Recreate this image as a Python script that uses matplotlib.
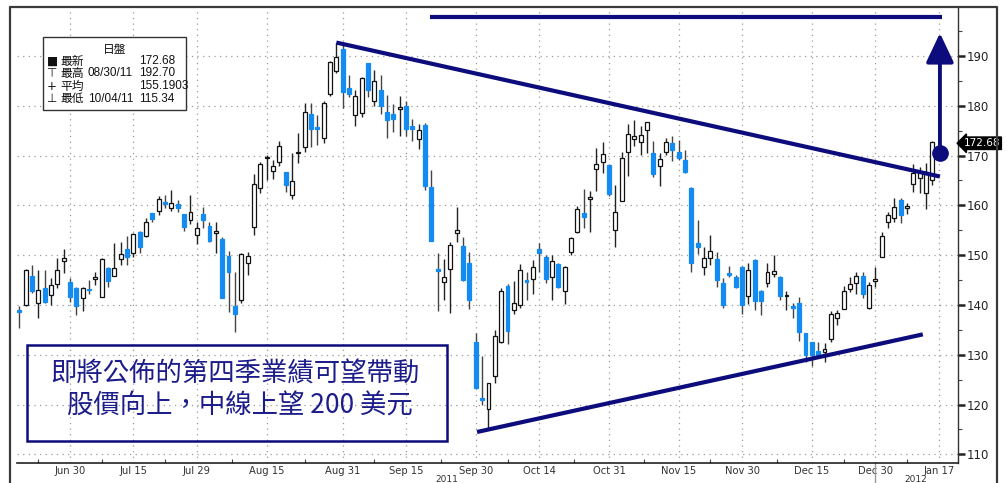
"""Daily candlestick chart with trendline annotations (Bloomberg style)."""
import matplotlib
matplotlib.use("Agg")
import matplotlib.pyplot as plt
from matplotlib.patches import Rectangle
from matplotlib.lines import Line2D
import pandas as pd

W, H = 1007, 483

# trading calendar (Jun 20 2011 .. Jan 17 2012, US market holidays removed)
holidays = ["2011-07-04", "2011-09-05", "2011-11-24", "2011-12-26", "2012-01-02", "2012-01-16"]
session_days = [d.strftime("%Y-%m-%d") for d in pd.bdate_range("2011-06-20", "2012-01-17")
                if d.strftime("%Y-%m-%d") not in holidays]

opens = [139.0, 140.0, 145.8, 140.3, 143.4, 142.0, 144.2, 148.8, 144.6, 143.4,
         141.4, 143.3, 145.2, 141.7, 147.5, 145.9, 149.2, 151.2, 150.4, 154.7,
         153.9, 158.4, 158.9, 160.7, 159.4, 160.3, 158.2, 157.1, 154.1, 158.3,
         155.9, 154.5, 153.2, 149.8, 139.7, 141.1, 148.5, 155.6, 163.5, 169.5,
         166.9, 168.7, 166.8, 162.1, 170.5, 171.8, 178.4, 175.8, 173.5, 182.4,
         186.9, 191.5, 183.5, 178.2, 178.5, 188.5, 181.0, 183.1, 178.7, 178.3,
         179.3, 180.0, 176.0, 173.3, 176.1, 163.7, 147.1, 144.7, 147.3, 154.5,
         151.8, 148.4, 132.6, 121.3, 119.2, 125.8, 132.6, 143.8, 139.0, 140.0,
         145.0, 145.2, 151.2, 149.7, 145.6, 148.2, 142.9, 150.7, 154.6, 158.5,
         161.2, 167.3, 168.8, 168.1, 155.1, 160.9, 170.8, 173.3, 172.7, 175.2,
         170.5, 168.0, 170.8, 172.5, 170.8, 169.1, 163.4, 152.5, 147.6, 149.4,
         149.2, 144.5, 146.5, 145.7, 147.7, 141.9, 149.0, 142.8, 144.4, 146.2,
         145.6, 141.8, 139.6, 140.5, 134.4, 132.5, 130.8, 130.5, 133.1, 137.3,
         139.1, 143.3, 144.4, 145.9, 139.3, 144.8, 149.7, 156.7, 157.4, 161.1,
         159.4, 164.3, 165.6, 162.5, 165.1]
highs = [139.8, 147.2, 148.0, 147.0, 147.0, 145.4, 149.4, 151.2, 145.4, 143.7,
         143.7, 145.0, 146.7, 149.4, 147.7, 152.4, 152.7, 153.9, 154.4, 154.9,
         157.4, 158.5, 161.9, 162.1, 163.1, 161.1, 158.3, 162.1, 156.7, 159.7,
         156.7, 156.7, 153.7, 150.9, 146.7, 150.4, 150.7, 166.3, 168.8, 170.1,
         169.1, 173.0, 166.8, 170.6, 174.6, 180.5, 180.5, 178.1, 181.0, 188.9,
         192.7, 192.5, 186.2, 183.2, 185.8, 188.6, 187.1, 186.2, 182.2, 180.3,
         182.0, 181.0, 177.3, 176.3, 176.6, 167.1, 150.4, 149.2, 152.7, 159.7,
         153.7, 150.7, 134.3, 129.7, 124.4, 135.0, 143.4, 144.2, 144.8, 148.2,
         146.7, 149.0, 152.4, 150.0, 150.0, 148.5, 147.9, 153.7, 159.9, 163.2,
         162.8, 171.6, 172.7, 168.1, 164.0, 170.8, 176.3, 177.1, 176.0, 176.7,
         173.0, 170.6, 173.6, 174.0, 173.1, 171.1, 163.6, 157.1, 151.7, 154.1,
         150.7, 145.4, 147.8, 146.0, 147.8, 148.4, 149.2, 143.0, 148.5, 150.0,
         145.8, 142.9, 140.5, 141.7, 134.4, 132.5, 132.6, 132.3, 138.7, 139.0,
         143.8, 145.7, 146.7, 146.7, 144.7, 147.6, 154.7, 158.7, 161.4, 161.4,
         160.4, 168.3, 167.8, 168.5, 173.0]
lows = [135.4, 139.7, 142.5, 137.3, 140.4, 140.0, 143.4, 146.4, 140.7, 138.0,
        138.7, 142.3, 144.0, 141.7, 143.7, 145.8, 148.0, 148.0, 149.7, 150.4,
        153.7, 156.6, 158.1, 159.4, 158.9, 158.7, 154.9, 156.3, 152.3, 155.4,
        152.7, 150.4, 141.5, 138.5, 134.6, 140.3, 146.0, 154.1, 162.5, 165.1,
        165.4, 168.0, 162.7, 161.2, 168.6, 170.8, 171.8, 172.1, 172.5, 182.0,
        186.5, 179.5, 181.7, 176.0, 177.8, 181.7, 180.0, 178.3, 173.5, 174.8,
        174.0, 174.0, 173.0, 171.3, 163.0, 152.8, 138.7, 141.0, 138.4, 152.7,
        144.8, 139.2, 123.3, 119.9, 115.34, 124.3, 132.4, 132.2, 138.2, 139.4,
        141.1, 142.3, 146.7, 144.4, 141.0, 143.4, 140.2, 150.0, 154.4, 155.4,
        154.7, 162.8, 166.5, 161.8, 151.7, 160.9, 166.0, 172.0, 170.1, 170.5,
        165.8, 163.9, 170.1, 169.0, 169.1, 166.6, 146.7, 150.2, 146.0, 148.0,
        143.7, 139.3, 145.6, 143.4, 138.1, 140.2, 138.9, 138.0, 143.7, 145.7,
        141.1, 139.0, 137.3, 132.8, 128.6, 127.8, 129.3, 128.6, 132.6, 136.0,
        139.1, 142.7, 142.2, 141.4, 139.1, 143.7, 149.7, 155.4, 156.7, 156.5,
        158.3, 162.7, 162.4, 159.3, 164.0]
closes = [138.5, 147.0, 142.9, 143.1, 140.7, 144.0, 147.0, 149.5, 141.7, 139.7,
          143.4, 143.0, 145.7, 149.2, 144.9, 147.5, 150.2, 149.7, 154.2, 151.6,
          156.7, 157.3, 161.2, 160.3, 160.4, 159.5, 155.7, 158.7, 155.4, 157.1,
          152.9, 154.9, 141.5, 146.7, 138.2, 150.2, 149.8, 164.3, 168.3, 169.7,
          167.9, 172.0, 164.1, 164.9, 170.7, 178.8, 175.3, 175.3, 180.5, 188.7,
          189.7, 182.8, 182.4, 182.0, 185.6, 183.2, 185.0, 179.9, 177.1, 177.3,
          179.7, 175.3, 175.3, 175.2, 163.8, 152.8, 146.9, 145.7, 152.0, 155.1,
          145.0, 141.0, 123.3, 121.0, 124.4, 133.8, 142.9, 134.8, 140.5, 147.0,
          144.6, 147.6, 150.5, 145.2, 148.8, 143.6, 147.6, 153.5, 159.2, 157.7,
          161.7, 168.3, 170.3, 162.2, 158.7, 169.5, 174.3, 174.0, 174.2, 176.7,
          166.3, 169.3, 172.7, 171.1, 169.6, 166.8, 148.4, 151.7, 149.5, 150.9,
          145.0, 139.9, 146.0, 143.7, 139.9, 147.0, 140.8, 140.8, 146.7, 146.9,
          141.9, 142.0, 139.4, 134.6, 130.0, 130.0, 130.0, 131.2, 138.2, 138.3,
          142.8, 144.2, 145.9, 142.2, 144.0, 145.2, 153.9, 158.1, 159.6, 158.1,
          159.9, 166.6, 166.8, 166.6, 172.68]

tick_dates = ["2011-06-30", "2011-07-15", "2011-07-29", "2011-08-15", "2011-08-31",
              "2011-09-15", "2011-09-30", "2011-10-14", "2011-10-31", "2011-11-15",
              "2011-11-30", "2011-12-15", "2011-12-30", "2012-01-17"]
tick_labels = ["Jun 30", "Jul 15", "Jul 29", "Aug 15", "Aug 31", "Sep 15", "Sep 30",
               "Oct 14", "Oct 31", "Nov 15", "Nov 30", "Dec 15", "Dec 30", "Jan 17"]
y_ticks = [110, 120, 130, 140, 150, 160, 170, 180, 190]

# legend panel values
panel_rows = [("■", "最新", "", "172.68"),
              ("⊤", "最高", "08/30/11", "192.70"),
              ("+", "平均", "", "155.1903"),
              ("⊥", "最低", "10/04/11", "115.34")]

# annotation anchors (trading-day index, price)
upper_trend = [(50.0, 192.7), (145.2, 165.8)]
lower_trend = [(72.2, 114.5), (142.5, 134.1)]
target_line = [(64.8, 197.8), (145.6, 197.8)]
arrow_from = (145.2, 170.5)
arrow_to = (145.2, 194.6)

NAVY = "#0c0c7c"
BLUE = "#138bf0"
CJK = ["Noto Sans CJK TC", "DejaVu Sans"]
SMALL = ["DejaVu Sans", "Noto Sans CJK TC"]
NARROW = ["Liberation Sans Narrow", "Liberation Sans", "DejaVu Sans"]

fig = plt.figure(figsize=(W / 100, H / 100), dpi=100)
fig.patch.set_facecolor("white")
ax = fig.add_axes([17 / W, 20 / H, 941 / W, 456 / H])
ax.set_facecolor("white")

idx = {d: i for i, d in enumerate(session_days)}
xs = list(range(len(closes)))

# candles
for i in xs:
    o, h, l, c = opens[i], highs[i], lows[i], closes[i]
    up = c >= o
    ax.vlines(i, l, h, color="#222222" if up else "#444444", lw=1.0, zorder=2)
    body = max(abs(c - o), 0.3)
    ax.bar(i, body, bottom=min(o, c), width=0.62,
           color="white" if up else BLUE,
           edgecolor="#111111" if up else BLUE, linewidth=0.9, zorder=3)

# trend annotations
for seg in (upper_trend, lower_trend, target_line):
    ax.plot([p[0] for p in seg], [p[1] for p in seg], color=NAVY, lw=3.0,
            solid_capstyle="butt", zorder=5)
ax.annotate("", xy=arrow_to, xytext=arrow_from,
            arrowprops=dict(arrowstyle="-|>,head_length=1.8,head_width=0.85",
                            color=NAVY, lw=2.8, shrinkA=0, shrinkB=0), zorder=6)
ax.plot(*arrow_from, marker="o", markersize=11, color=NAVY, zorder=7)

# axes styling
ax.set_xlim(-0.36, 148.05)
ax.set_ylim(108.27, 199.84)
tick_pos = [idx[d] for d in tick_dates]
ax.set_xticks(tick_pos)
ax.set_xticklabels(tick_labels)
ax.set_xticks([(a + b) / 2 for a, b in zip(tick_pos[:-1], tick_pos[1:])]
              + [tick_pos[0] - 5, tick_pos[-1] + 3], minor=True)
ax.yaxis.tick_right()
ax.set_yticks(y_ticks)
ax.set_yticks([v + 5 for v in y_ticks[:-1]] + [195], minor=True)
ax.tick_params(axis="y", which="major", direction="out", length=5, width=1.8,
               labelsize=8.5, pad=1.5, colors="#222222")
ax.tick_params(axis="y", which="minor", direction="out", length=3, width=0.8, colors="#444444")
ax.tick_params(axis="x", which="major", length=0, labelsize=7.2, pad=2, colors="#333333")
ax.tick_params(axis="x", which="minor", direction="in", length=3, width=0.8, colors="#444444")
for lab in ax.get_xticklabels() + ax.get_yticklabels():
    lab.set_family(SMALL)
ax.grid(True, which="major", color="#9a9a9a", linestyle=(0, (1, 3.5)), linewidth=0.9)
for side in ("top", "left"):
    ax.spines[side].set_visible(False)
ax.spines["right"].set_color("#333333")
ax.spines["bottom"].set_color("#222222")
ax.spines["right"].set_linewidth(1.0)
ax.spines["bottom"].set_linewidth(1.2)

# year labels
xt = ax.get_xaxis_transform()
for xpos, year in ((67.5, "2011"), (141.4, "2012")):
    ax.text(xpos, -0.036, year, transform=xt, ha="center", va="center", fontsize=6.5,
            color="#333333", clip_on=False)
ax.plot([idx["2011-12-30"]] * 2, [0, -0.06], transform=xt, color="#999999", lw=1.0,
        clip_on=False)

# last price tag
ax.text(1.006, closes[-1] - 0.2, f"{closes[-1]:.2f}", transform=ax.get_yaxis_transform(),
        ha="left", va="center", fontsize=7.5, color="white", family=SMALL,
        bbox=dict(boxstyle="larrow,pad=0.12", fc="black", ec="black"), clip_on=False, zorder=8)


def px(x, y):
    return x / W, 1 - y / H


# outer frame
frame = [(10, 490), (10, 7), (997, 7), (997, 490)]
fig.add_artist(Line2D([px(*p)[0] for p in frame], [px(*p)[1] for p in frame],
                      color="#3a3a3a", lw=1.6, transform=fig.transFigure))

# info panel (top-left)
x0, y0 = px(43, 110)
fig.add_artist(Rectangle((x0, y0), 143 / W, 73 / H, transform=fig.transFigure,
                         fc="white", ec="#333333", lw=1.0, zorder=9))
fig.text(*px(115, 49), "日盤", ha="center", va="center", fontsize=8.5, family=CJK,
         color="#111111", zorder=10)
for k, (sym, name, date, val) in enumerate(panel_rows):
    yy = 61 + k * 12.5
    fig.text(*px(47, yy), sym, ha="left", va="center", fontsize=8.5, family=SMALL,
             color="#111111", zorder=10)
    fig.text(*px(60, yy), name, ha="left", va="center", fontsize=8.5, family=CJK,
             color="#111111", zorder=10)
    fig.text(*px(88, yy), date, ha="left", va="center", fontsize=8.5, family=NARROW,
             color="#111111", zorder=10)
    fig.text(*px(139, yy), val, ha="left", va="center", fontsize=8.5, family=NARROW,
             color="#111111", zorder=10)

# commentary box
bx, by = px(27, 441)
fig.add_artist(Rectangle((bx, by), 420 / W, 96 / H, transform=fig.transFigure,
                         fc="none", ec=NAVY, lw=1.8, zorder=9))
fig.text(*px(235, 374), "即將公佈的第四季業績可望帶動", ha="center", va="center",
         fontsize=19, family=CJK, color="#1c1c8a", zorder=10)
fig.text(*px(240, 406), "股價向上，中線上望 200 美元", ha="center", va="center",
         fontsize=19, family=CJK, color="#1c1c8a", zorder=10)

fig.savefig("out.png", dpi=100)
